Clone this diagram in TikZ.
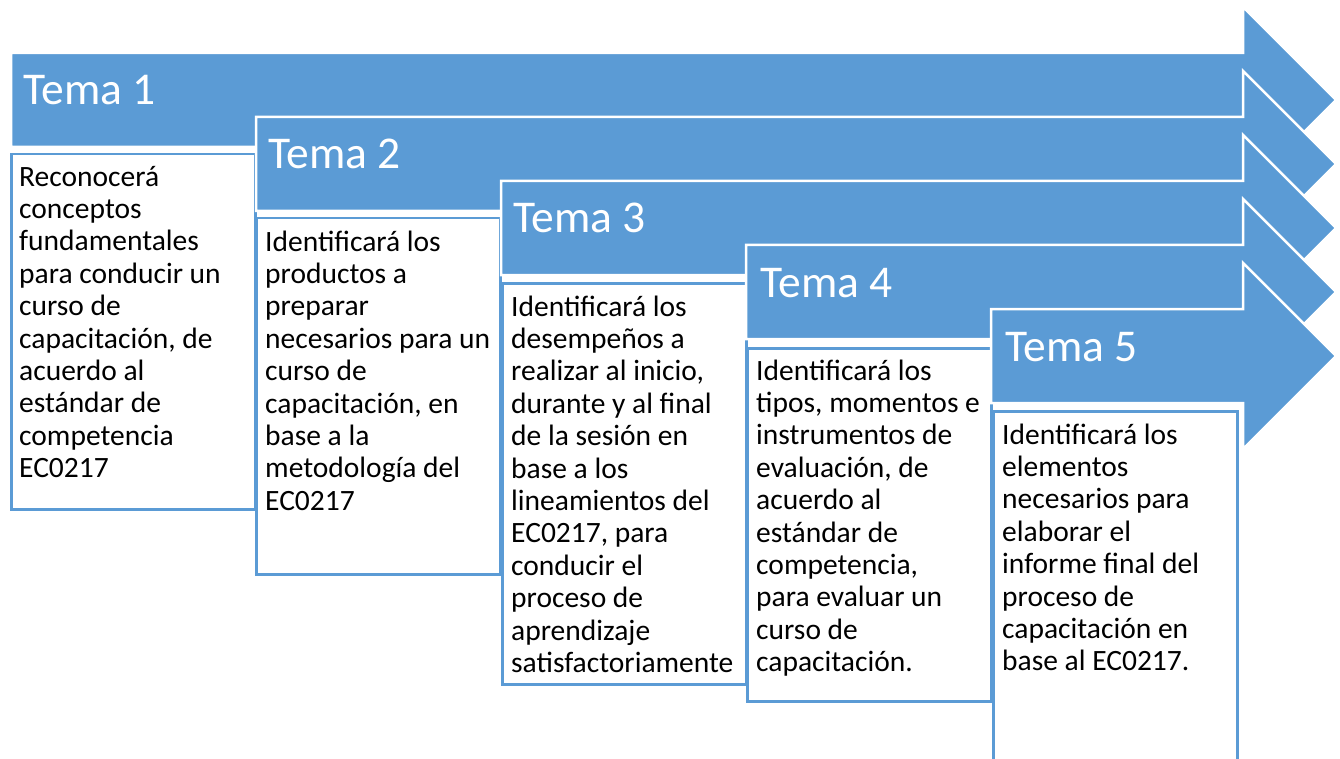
\documentclass[tikz,border=0pt]{standalone}
\usepackage{fontspec}
\setmainfont{Carlito}
\definecolor{obl}{HTML}{5B9BD5}
\tikzset{
  arrowshape/.style={fill=obl, draw=white, line width=2.5pt, line join=miter},
  boxshape/.style={draw=obl, fill=white, line width=2.5pt, rectangle, inner sep=0pt, anchor=north west, minimum width=244pt},
  tematext/.style={anchor=base west, text=white, inner sep=0pt, font=\fontsize{45.5}{52}\selectfont},
  boxtext/.style={anchor=north west, text=black, inner sep=0pt, align=left, font=\fontsize{29.5}{32.4}\selectfont}
}
\begin{document}
\begin{tikzpicture}[x=1pt,y=-1pt]
\useasboundingbox (0,0) rectangle (1340,759);
\clip (0,0) rectangle (1340,759);
\fill[white] (0,0) rectangle (1340,759);
% arrow 1
\draw[arrowshape] (11,53) -- (1243,53) -- (1243,7) -- (1336,100) -- (1243,193) -- (1243,147) -- (11,147) -- cycle;
\node[tematext] (tema1) at (23,105) {Tema 1};
\node[boxshape, minimum height=355pt] (box1) at (10,153) {};
\node[boxtext] (txt1) at (19,163.3) {\strut Reconocerá\\conceptos\\fundamentales\\para conducir un\\curso de\\capacitación, de\\acuerdo al\\estándar de\\competencia\\EC0217};
% arrow 2
\draw[arrowshape] (256,117) -- (1243,117) -- (1243,71) -- (1336,164) -- (1243,257) -- (1243,211) -- (256,211) -- cycle;
\node[tematext] (tema2) at (268,169) {Tema 2};
\node[boxshape, minimum height=356pt] (box2) at (255,217) {};
\node[boxtext] (txt2) at (265,228.3) {\strut Identificará los\\productos a\\preparar\\necesarios para un\\curso de\\capacitación, en\\base a la\\metodología del\\EC0217};
% arrow 3
\draw[arrowshape] (501,181) -- (1243,181) -- (1243,135) -- (1336,228) -- (1243,321) -- (1243,275) -- (501,275) -- cycle;
\node[tematext] (tema3) at (513,233) {Tema 3};
\node[boxshape, minimum height=401pt] (box3) at (501,282) {};
\node[boxtext] (txt3) at (511,293.3) {\strut Identificará los\\desempeños a\\realizar al inicio,\\durante y al final\\de la sesión en\\base a los\\lineamientos del\\EC0217, para\\conducir el\\proceso de\\aprendizaje\\satisfactoriamente};
% arrow 4
\draw[arrowshape] (746,245) -- (1243,245) -- (1243,199) -- (1336,292) -- (1243,385) -- (1243,339) -- (746,339) -- cycle;
\node[tematext] (tema4) at (760,297) {Tema 4};
\node[boxshape, minimum height=353pt] (box4) at (746,347) {};
\node[boxtext] (txt4) at (756,357.3) {\strut Identificará los\\tipos, momentos e\\instrumentos de\\evaluación, de\\acuerdo al\\estándar de\\competencia,\\para evaluar un\\curso de\\capacitación.};
% arrow 5
\draw[arrowshape] (991,309) -- (1243,309) -- (1243,263) -- (1336,356) -- (1243,449) -- (1243,403) -- (991,403) -- cycle;
\node[tematext] (tema5) at (1005,361) {Tema 5};
\node[boxshape, minimum height=380pt] (box5) at (992,410) {};
\node[boxtext] (txt5) at (1002,421.3) {\strut Identificará los\\elementos\\necesarios para\\elaborar el\\informe final del\\proceso de\\capacitación en\\base al EC0217.};
\end{tikzpicture}
\end{document}
